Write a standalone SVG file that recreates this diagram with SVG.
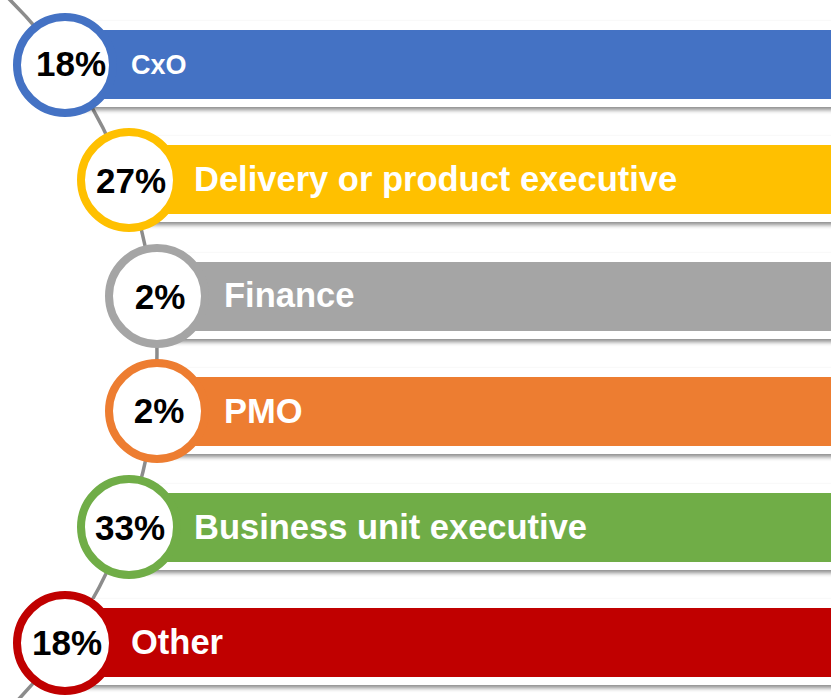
<svg xmlns="http://www.w3.org/2000/svg" width="831" height="698" viewBox="0 0 831 698">
  <defs>
    <filter id="sh" x="-5%" y="-20%" width="110%" height="150%">
      <feDropShadow dx="0" dy="3" stdDeviation="2" flood-color="#000" flood-opacity="0.45"/>
    </filter>
    <style>
      .back { fill: #ffffff; filter: url(#sh); }
      .ring { fill: #ffffff; stroke-width: 8; }
      .pct { font-family: "Liberation Sans", Arial, sans-serif; font-weight: bold; font-size: 35px; fill: #000; text-anchor: middle; }
      .lbl { font-family: "Liberation Sans", Arial, sans-serif; font-weight: bold; font-size: 34.5px; fill: #fff; }
    </style>
  </defs>
  <rect width="831" height="698" fill="#ffffff"/>
  <g id="connectors">
    <path d="M 5 -5 A 500 500 0 0 1 15 703" fill="none" stroke="#8c8c8c" stroke-width="3.5"/>
  </g>
  <g id="node-cxo">
    <rect class="back" x="65" y="21" width="780" height="86"/>
    <rect x="65" y="30" width="780" height="69" fill="#4472C4"/>
    <circle class="ring" cx="65" cy="65" r="48" stroke="#4472C4"/>
    <text class="pct" x="71" y="76">18%</text>
    <text class="lbl" x="131" y="74" style="font-size:27px">CxO</text>
  </g>
  <g id="node-delivery">
    <rect class="back" x="129" y="136" width="720" height="86"/>
    <rect x="129" y="145" width="720" height="69" fill="#FFC000"/>
    <circle class="ring" cx="129" cy="180" r="48" stroke="#FFC000"/>
    <text class="pct" x="131" y="193">27%</text>
    <text class="lbl" x="194" y="191">Delivery or product executive</text>
  </g>
  <g id="node-finance">
    <rect class="back" x="157" y="253" width="700" height="86"/>
    <rect x="157" y="262" width="700" height="69" fill="#A5A5A5"/>
    <circle class="ring" cx="157" cy="296" r="48" stroke="#A5A5A5"/>
    <text class="pct" x="160" y="309">2%</text>
    <text class="lbl" x="224" y="307">Finance</text>
  </g>
  <g id="node-pmo">
    <rect class="back" x="157" y="368" width="700" height="86"/>
    <rect x="157" y="377" width="700" height="69" fill="#ED7D31"/>
    <circle class="ring" cx="157" cy="411" r="48" stroke="#ED7D31"/>
    <text class="pct" x="159" y="423">2%</text>
    <text class="lbl" x="224" y="423">PMO</text>
  </g>
  <g id="node-business">
    <rect class="back" x="129" y="484" width="720" height="86"/>
    <rect x="129" y="493" width="720" height="69" fill="#70AD47"/>
    <circle class="ring" cx="129" cy="527" r="48" stroke="#70AD47"/>
    <text class="pct" x="130" y="540">33%</text>
    <text class="lbl" x="194" y="539">Business unit executive</text>
  </g>
  <g id="node-other">
    <rect class="back" x="65" y="599" width="780" height="86"/>
    <rect x="65" y="608" width="780" height="69" fill="#C00000"/>
    <circle class="ring" cx="65" cy="643" r="48" stroke="#C00000"/>
    <text class="pct" x="67" y="655">18%</text>
    <text class="lbl" x="131" y="654">Other</text>
  </g>
</svg>
